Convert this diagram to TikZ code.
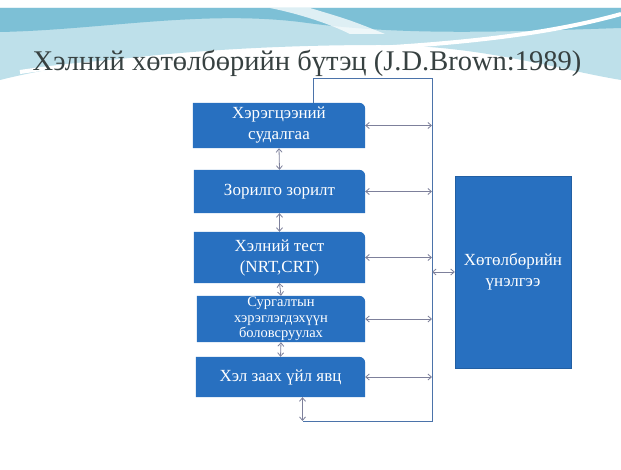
\documentclass[tikz,border=0pt]{standalone}
\usepackage{fontspec}
\setmainfont{Liberation Serif}
\usetikzlibrary{arrows.meta,backgrounds}
\definecolor{boxblue}{RGB}{40,112,192}
\definecolor{busblue}{RGB}{75,115,170}
\definecolor{arrgray}{RGB}{125,128,155}
\definecolor{wavelight}{RGB}{190,224,234}
\definecolor{wavedark}{RGB}{125,192,214}
\definecolor{titlegray}{RGB}{55,65,65}
\begin{document}
\begin{tikzpicture}[x=1pt,y=-1pt,>={Straight Barb[length=3.5pt,width=6pt]},
  stage/.style={text=white,align=center,inner sep=0pt,font=\fontsize{17}{21}\selectfont},
  link/.style={<->,arrgray,line width=0.8pt},
  bus/.style={busblue,line width=0.8pt}]
  \useasboundingbox (0,0) rectangle (621,470);
  % Title
  \node[titlegray,font=\fontsize{28.5}{32}\selectfont] (title) at (307,63) {Хэлний хөтөлбөрийн бүтэц (J.D.Brown:1989)};

  % Stages
  \node[stage,minimum width=172,minimum height=45] (need) at (279,125.5) {Хэрэгцээний\\судалгаа};
  \node[stage,minimum width=171,minimum height=43] (goal) at (279.5,191.5) {Зорилго зорилт};
  \node[stage,minimum width=171,minimum height=51] (test) at (279.5,257.5) {Хэлний тест\\(NRT,CRT)};
  \node[stage,minimum width=168,minimum height=46,font=\fontsize{14.5}{15.5}\selectfont] (mat) at (281,319) {Сургалтын\\хэрэглэгдэхүүн\\боловсруулах};
  \node[stage,minimum width=169,minimum height=40] (teach) at (280.5,377) {Хэл заах үйл явц};
  \node[stage,fill=boxblue,draw=boxblue!85!black,minimum width=116,minimum height=192] (eval) at (513,272) {Хөтөлбөрийн\\үнэлгээ};

  % Feedback line
  \coordinate (busT) at (432,78);
  \coordinate (busB) at (432,421);
  \draw[bus] ([xshift=34pt]need.north) |- (busT) -- (busB) -- ([xshift=22pt]teach.south |- busB);
  \draw[link] ([xshift=22pt]teach.south) -- ([xshift=22pt]teach.south |- busB);

  % Links
  \draw[link] (need.south) -- (goal.north);
  \draw[link] (goal.south) -- (test.north);
  \draw[link] (test.south) -- (mat.north);
  \draw[link] (mat.south) -- (teach.north);
  \foreach \n in {need,goal,test,mat,teach}
    \draw[link] (\n.east) -- (\n.east -| busT);
  \draw[link] (eval.west -| busT) -- (eval.west);

  \begin{scope}[on background layer]
    % Slide waves
    \fill[wavelight] (0,8) -- (621,8) -- (621,80) .. controls (560,70) and (480,45) .. (380,45) .. controls (250,45) and (100,55) .. (0,80) -- cycle;
    \fill[wavedark] (0,8) -- (621,8) -- (621,28) .. controls (500,32) and (400,36) .. (300,22) .. controls (200,10) and (100,30) .. (0,32) -- cycle;
    \fill[white,opacity=.75] (270,8) .. controls (300,14) and (330,24) .. (350,34) -- (385,34) .. controls (350,20) .. (310,8) -- cycle;
    \draw[white,line width=4pt] (20,72) .. controls (200,45) and (450,62) .. (621,14);
    % Stage boxes
    \foreach \n in {need,goal,test,mat,teach}
      \fill[boxblue] (\n.south west) -- (\n.north west) -- ([xshift=-6pt]\n.north east)
        arc[start angle=90,end angle=0,radius=6pt] -- (\n.south east) -- cycle;
  \end{scope}
\end{tikzpicture}
\end{document}
